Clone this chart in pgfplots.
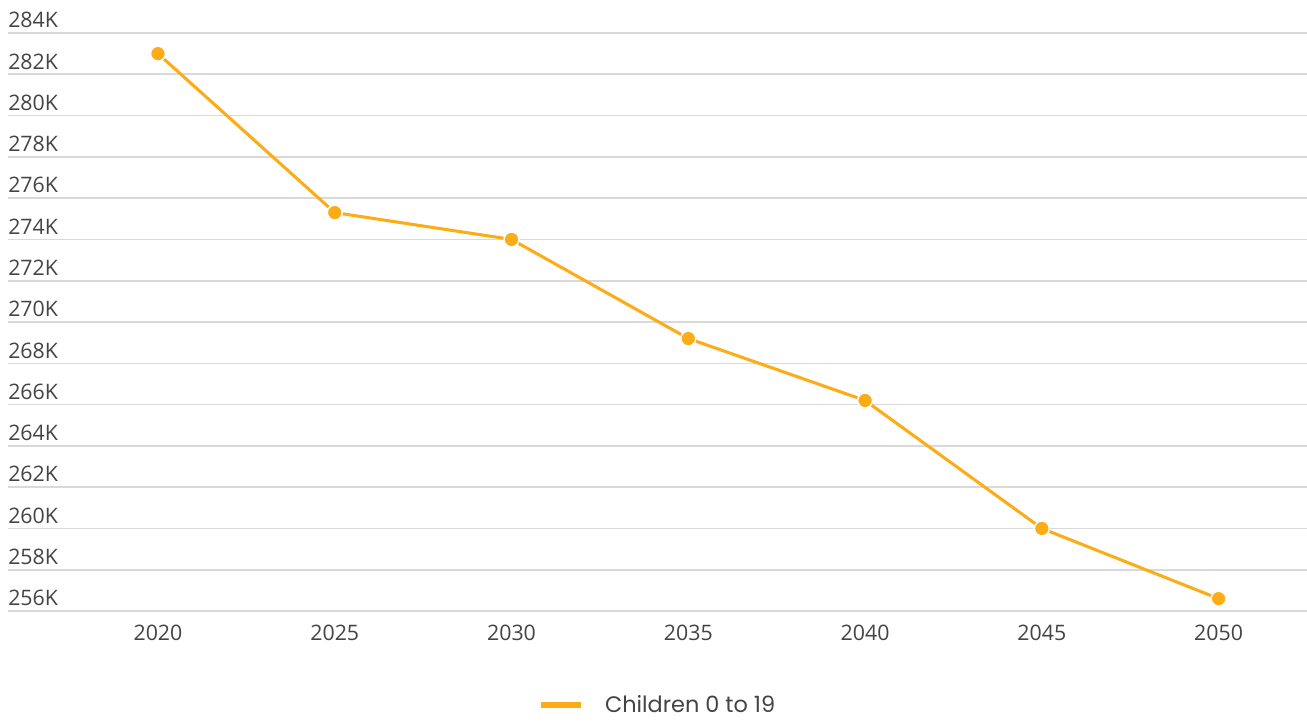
\documentclass[border=0pt]{standalone}
\usepackage{pgfplots}
\pgfplotsset{compat=1.18}
\usepackage{fontspec}
\setmainfont{Open Sans}
\newfontfamily\legfont{Poppins}
\definecolor{lc}{HTML}{FBAC17}
\definecolor{gridc}{HTML}{D9D9D9}
\definecolor{txt}{HTML}{444444}
\begin{document}
\begin{tikzpicture}
\useasboundingbox (-52.2pt,-82.5pt) rectangle (928pt,458.25pt);
\begin{axis}[
  scale only axis,
  width=928pt, height=433.5pt,
  xmin=2017.5, xmax=2052.5,
  ymin=256, ymax=284,
  axis line style={draw=none},
  tick style={draw=none},
  xtick={2020,2025,...,2050},
  ytick={256,258,...,284},
  yticklabels={256K,258K,260K,262K,264K,266K,268K,270K,272K,274K,276K,278K,280K,282K,284K},
  xticklabel style={/pgf/number format/1000 sep={}, font=\fontsize{16}{19}\selectfont, text=txt, anchor=north, inner sep=0pt, yshift=-10.5pt},
  yticklabel style={font=\fontsize{16}{19}\selectfont, text=txt, anchor=base west, inner sep=0pt, xshift=-46.2pt, yshift=3.9pt},
  /pgf/number format/assume math mode=true,
  clip=false,
  legend style={at={(0.4755,-0.1626)}, anchor=center, draw=none, fill=none,
    font=\legfont\fontsize{16.8}{19}\selectfont, text=txt, inner sep=0pt,
    /tikz/every odd column/.append style={column sep=14pt}},
  legend cell align=left,
]
\pgfplotsinvokeforeach{256,258,...,284}{
  \draw[gridc, line width=1.2pt] ([xshift=-46.2pt]axis cs:2017.5,#1) -- (axis cs:2052.5,#1);
}
\addplot[color=lc, line width=2.3pt, mark=*, mark size=5.6pt,
  mark options={fill=lc, draw=white, line width=1.1pt},
  legend image code/.code={\draw[lc, line width=4.2pt] (0pt,0pt) -- (30pt,0pt);}]
  coordinates {(2020,283.0) (2025,275.3) (2030,274.0) (2035,269.2) (2040,266.2) (2045,260.0) (2050,256.6)};
\addlegendentry{Children 0 to 19}
\end{axis}
\end{tikzpicture}
\end{document}
